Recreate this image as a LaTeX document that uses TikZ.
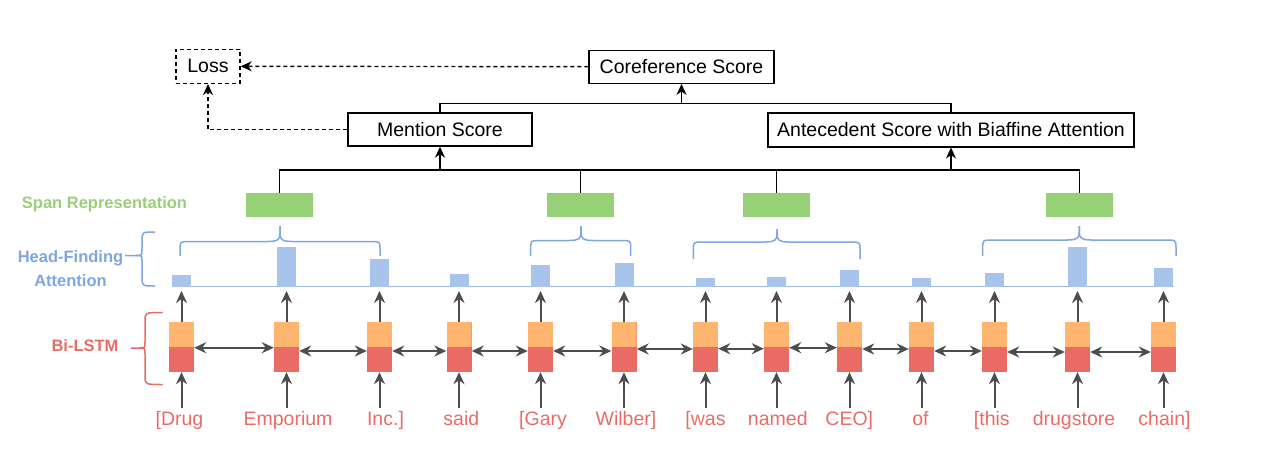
\documentclass[tikz,border=0pt]{standalone}
\usepackage{fontspec}
\setmainfont{Liberation Sans}
\usetikzlibrary{arrows.meta,calc}
\definecolor{lred}{HTML}{EA6B66}
\definecolor{lorange}{HTML}{FFB570}
\definecolor{lgreen}{HTML}{97D077}
\definecolor{lblue}{HTML}{A9C4EB}
\definecolor{dblue}{HTML}{7EA6E0}
\definecolor{baseblue}{HTML}{9DBBE8}
\definecolor{garr}{HTML}{4D4D4D}
\newcommand\myupbrace[6]{%
  \draw[dblue,line width=1.5pt] (#1,#4) -- (#1,{#5+8}) .. controls (#1,#5) .. ({#1+10},#5) -- ({#3-12},#5) .. controls ({#3-2},#5) and (#3,{#5-2}) .. (#3,{#5-8}) -- (#3,#6);
  \draw[dblue,line width=1.5pt] (#2,#4) -- (#2,{#5+8}) .. controls (#2,#5) .. ({#2-10},#5) -- ({#3+12},#5) .. controls ({#3+2},#5) and (#3,{#5-2}) .. (#3,{#5-8}) -- (#3,#6);
}
\newcommand\myleftbrace[7]{%
  \draw[#7,line width=1.5pt] (#1,#4) .. controls (#2,#4) .. (#2,{#4+9}) -- (#2,{#5-6}) .. controls (#2,#5) .. ({#2-6},#5) -- (#3,#5);
  \draw[#7,line width=1.5pt] (#1,#6) .. controls (#2,#6) .. (#2,{#6-9}) -- (#2,{#5+6}) .. controls (#2,#5) .. ({#2-6},#5);
}
\begin{document}
\begin{tikzpicture}[x=1pt,y=-1pt,
  box/.style={draw=black,line width=1.4pt,minimum height=33pt,inner sep=0pt,font=\fontsize{19.5}{23}\selectfont},
  word/.style={text=lred,font=\fontsize{19.5}{23}\selectfont,anchor=base,inner xsep=0pt,inner ysep=3pt,text height=14pt,text depth=4pt},
  lstm/.style={fill=lred,minimum width=25pt,minimum height=50pt,inner sep=0pt,
    path picture={\fill[lorange] (path picture bounding box.north west) rectangle (path picture bounding box.east);}},
  bar/.style={fill=lblue,minimum width=19pt,inner sep=0pt,anchor=south},
  spanbox/.style={fill=lgreen,minimum width=67pt,minimum height=24pt,inner sep=0pt},
  gline/.style={draw=garr,line width=2pt},
  garrow/.style={gline,arrows={-Stealth[length=12pt,width=11pt,inset=4pt]}},
  gdbl/.style={gline,arrows={Stealth[length=12pt,width=11pt,inset=4pt]-Stealth[length=12pt,width=11pt,inset=4pt]}},
  bline/.style={draw=black,line width=1.5pt},
  barrow/.style={arrows={-Stealth[length=11pt,width=10pt,inset=3.5pt]}},
  dline/.style={draw=black,line width=1.4pt,dash pattern=on 4pt off 3pt},
  lab/.style={font=\bfseries\fontsize{16.5}{20}\selectfont,anchor=base,inner sep=0pt}
]
\useasboundingbox (0,0) rectangle (1262,466);

% top boxes
\node[box,dline,minimum width=64pt,minimum height=34pt] (loss) at (208,66.3) {Loss};
\node[box,minimum width=185pt] (cs) at (681.5,66.7) {Coreference Score};
\node[box,minimum width=184pt] (ms) at (440,129.5) {Mention Score};
\node[box,minimum width=366pt,minimum height=34pt] (as) at (951,129.8) {Antecedent Score with Biaffine Attention};

% span boxes
\node[spanbox] (s1) at (279.5,205) {};
\node[spanbox] (s2) at (580.3,205) {};
\node[spanbox] (s3) at (776.3,205) {};
\node[spanbox] (s4) at (1079.3,205) {};

\coordinate (top) at (0,103.3);
\coordinate (bus) at (0,170);
\draw[bline] (ms.north) -- (ms.north |- top) -- (as.north |- top) -- (as.north);
\draw[bline,barrow] (cs.south |- top) -- (cs.south);
\draw[bline] (s1.north) -- (s1.north |- bus) -- (s4.north |- bus) -- (s4.north);
\draw[bline] (s2.north) -- (s2.north |- bus);
\draw[bline] (s3.north) -- (s3.north |- bus);
\draw[bline,barrow] (ms.south |- bus) -- (ms.south);
\draw[bline,barrow] (as.south |- bus) -- (as.south);
\draw[dline,barrow] (cs.west) -- (loss.east);
\draw[dline,barrow] (ms.west) -- (ms.west -| loss.south) -- (loss.south);

% labels
\node[lab,text=lgreen] (lspan) at (104.5,208.5) {Span Representation};
\node[lab,text=dblue] (lhead) at (70.5,262.8) {Head-Finding};
\node[lab,text=dblue] (latt) at (70.5,286) {Attention};
\node[lab,text=lred] (llstm) at (85,351) {Bi-LSTM};

\myleftbrace{155}{142}{125}{232}{255.5}{286}{dblue}
\myleftbrace{162.5}{145}{131}{312.5}{348}{384.5}{lred}

% span braces
\myupbrace{180}{380}{280}{256}{241.5}{226}
\myupbrace{530.7}{630.7}{581}{256}{240.5}{226}
\myupbrace{693.3}{860}{777}{259}{242}{229}
\myupbrace{982.7}{1176}{1079.3}{256}{240}{226}

% attention baseline
\coordinate (bl) at (172,286.3);
\coordinate (br) at (1174,286.3);
\draw[baseblue,line width=1.3pt] (bl) -- (br);

% columns
\foreach \i/\x/\wx/\w/\h in {
  1/181.5/179.5/{[Drug}/11.7,
  2/286.5/288/{Emporium}/39.7,
  3/379.5/385.5/{Inc.]}/28.3,
  4/459/461.3/{said}/13.3,
  5/540.5/543/{[Gary}/21.7,
  6/624/626/{Wilber]}/23.7,
  7/705.5/705.5/{[was}/8.7,
  8/776.5/777.8/{named}/10,
  9/849.5/849.3/{CEO]}/17,
  10/921.5/920.5/{of}/8.7,
  11/994.5/991.8/{[this}/13.7,
  12/1077.5/1074/{drugstore}/39.7,
  13/1163.5/1164.5/{chain]}/18.7}{
  \node[bar,minimum height=\h pt] (b\i) at (\x,287) {};
  \node[lstm] (l\i) at (\x,347) {};
  \node[word] (w\i) at (\wx,425) {\w};
  \draw[garrow] (l\i.south |- w\i.north) -- (l\i.south);
  \draw[garrow] (l\i.north) -- ([yshift=-4pt]b\i.south);
}
\foreach \i/\j/\d in {1/2/0.7,2/3/4,3/4/4,4/5/4,5/6/4,6/7/2,7/8/1.7,8/9/0.7,9/10/2,10/11/4,11/12/5,12/13/5}{
  \draw[gdbl] ($(l\i.east)+(0,\d)$) -- ($(l\j.west)+(0,\d)$);
}
\end{tikzpicture}
\end{document}
